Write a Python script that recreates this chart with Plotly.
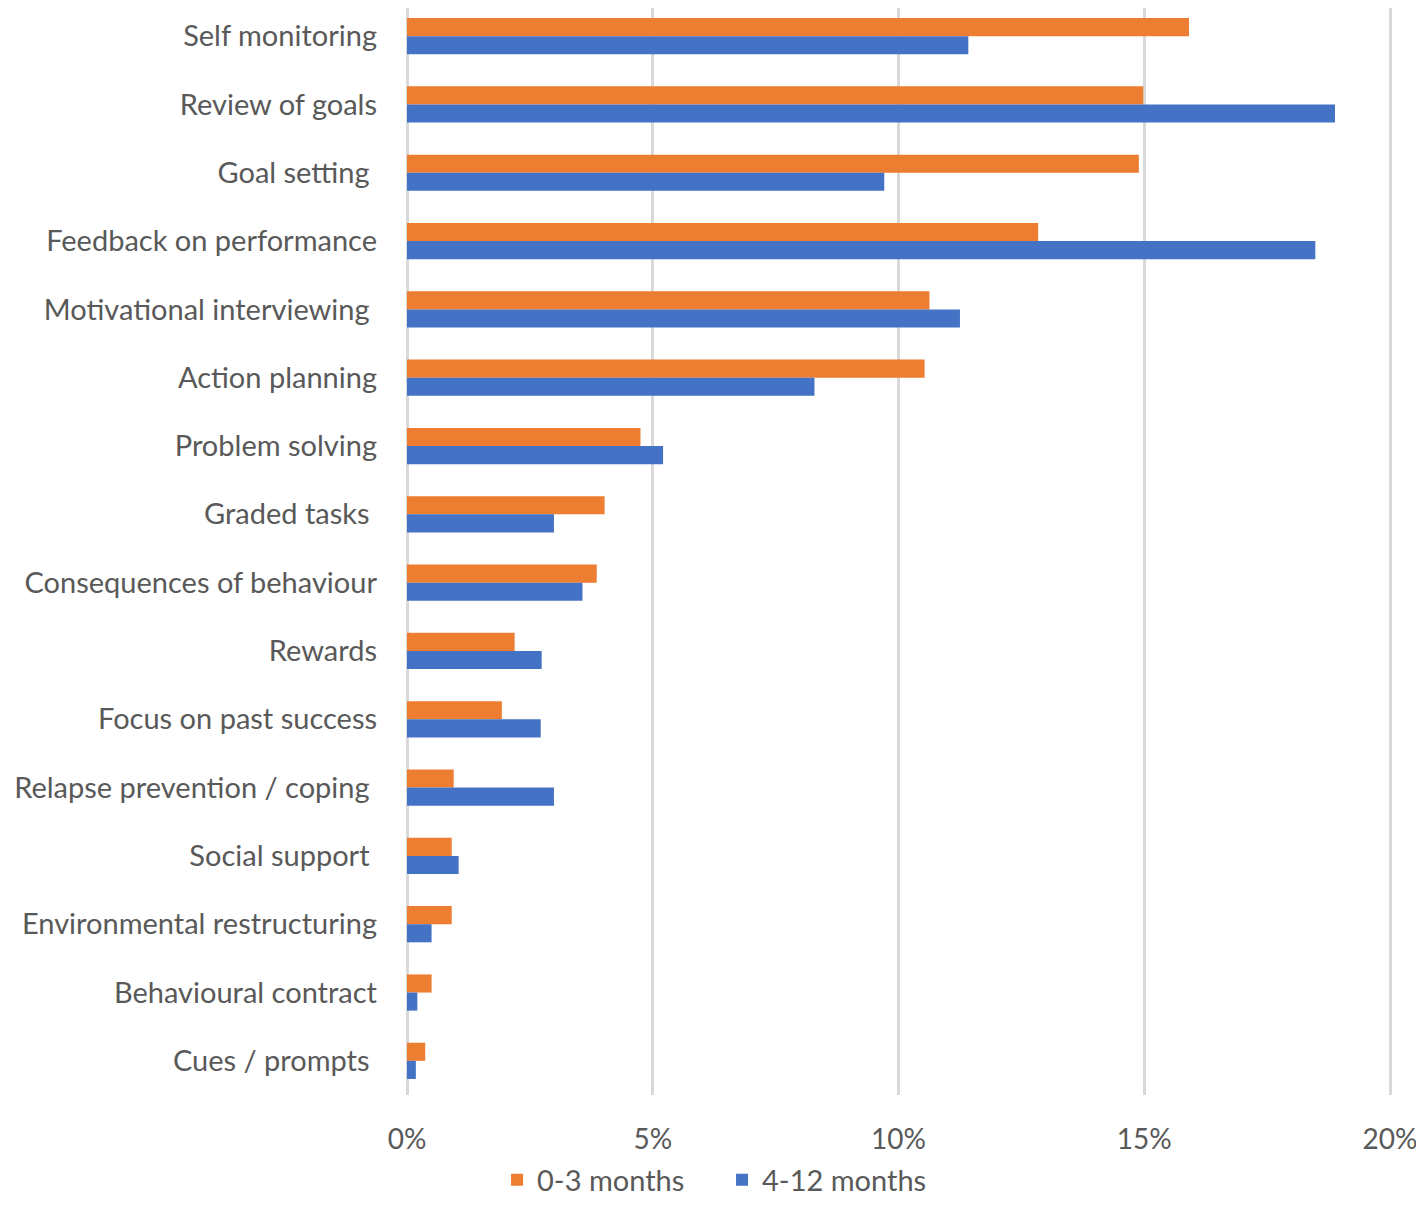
import plotly.graph_objects as go

categories = [
    "Self monitoring", "Review of goals", "Goal setting\u00a0", "Feedback on performance",
    "Motivational interviewing\u00a0", "Action planning", "Problem solving", "Graded tasks\u00a0",
    "Consequences of behaviour", "Rewards", "Focus on past success",
    "Relapse prevention / coping\u00a0", "Social support\u00a0", "Environmental restructuring",
    "Behavioural contract", "Cues / prompts\u00a0",
]
months_0_3 = [15.91, 14.98, 14.89, 12.84, 10.63, 10.53, 4.75, 4.02, 3.86, 2.19, 1.93, 0.95, 0.91, 0.91, 0.50, 0.37]
months_4_12 = [11.42, 18.88, 9.71, 18.48, 11.25, 8.29, 5.21, 2.99, 3.57, 2.74, 2.72, 2.99, 1.05, 0.50, 0.21, 0.18]
series_names = ["0-3 months", "4-12 months"]
x_tick_values = [0, 5, 10, 15, 20]
x_tick_labels = ["0%", "5%", "10%", "15%", "20%"]
colors = ["#ED7D31", "#4472C4"]

fig = go.Figure()
for name, vals, col in zip(series_names, [months_0_3, months_4_12], colors):
    fig.add_trace(go.Bar(
        y=categories, x=vals, name=name, orientation="h",
        marker=dict(color=col, line=dict(width=0)),
    ))

font_family = "Lato, 'Open Sans', sans-serif"
FS = 29
fig.update_layout(
    width=1412, height=1204,
    margin=dict(l=399, r=28, t=0, b=117, autoexpand=False),
    plot_bgcolor="white", paper_bgcolor="white",
    barmode="group", bargap=0.47, bargroupgap=0,
    font=dict(family=font_family, size=FS, color="#595959"),
    xaxis=dict(
        range=[0, 20.04], tickmode="array", tickvals=x_tick_values, ticktext=x_tick_labels,
        showgrid=True, gridcolor="#D9D9D9", gridwidth=2.5,
        zeroline=True, zerolinecolor="#D9D9D9", zerolinewidth=2.5,
        showline=False, ticks="", ticklabelstandoff=25, ticklabeloverflow="allow",
        tickfont=dict(size=28, color="#595959"),
    ),
    yaxis=dict(
        range=[15.5, -0.412], showgrid=False, showline=False, ticks="",
        ticklabelstandoff=29, tickfont=dict(size=FS, color="#595959"),
    ),
    legend=dict(
        orientation="h", xref="container", yref="container",
        x=0.5057, xanchor="center", y=0.0266, yanchor="middle",
        font=dict(size=FS, color="#595959"), traceorder="normal",
        entrywidth=180,
    ),
)

fig.write_html("out.html")
